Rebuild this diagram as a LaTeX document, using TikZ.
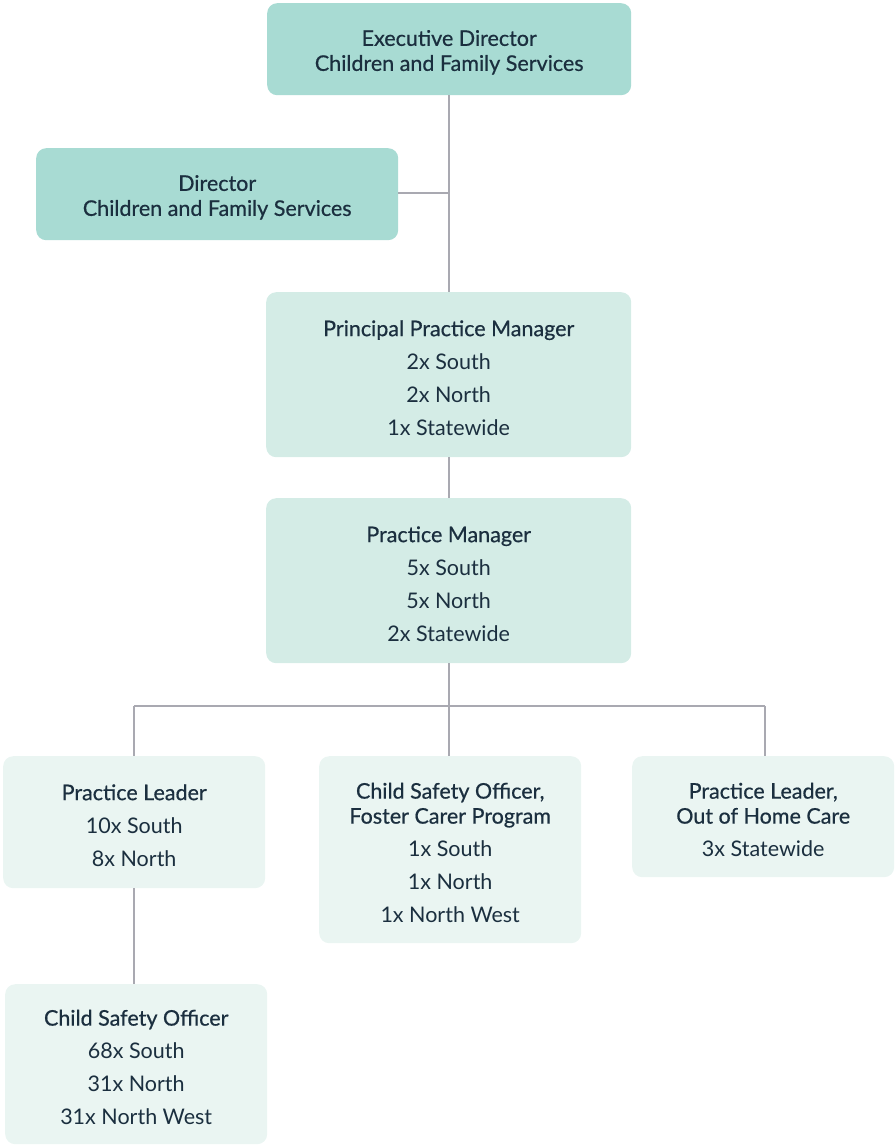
\documentclass[tikz,border=0pt]{standalone}
\usepackage{fontspec}
\setmainfont{Lato}
\newfontfamily\titlefont{Lato}[FakeBold=0.6]
\definecolor{darkbox}{HTML}{A8DBD3}
\definecolor{midbox}{HTML}{D4ECE6}
\definecolor{lightbox}{HTML}{EAF5F2}
\definecolor{txt}{HTML}{1B2F3F}
\definecolor{linec}{HTML}{A9A9B1}
\begin{document}
\begin{tikzpicture}[x=1pt,y=-1pt,
  box/.style={rounded corners=10pt, align=center, text=txt, inner sep=0pt,
    font=\fontsize{21.5}{25}\selectfont, anchor=north west},
  conn/.style={draw=linec, line width=1.2pt}]
\useasboundingbox (0,0) rectangle (895,1146);
\newcommand{\bx}[7]{% name, x1, y1, x2, y2, colour, text
  \node[box, fill=#6, minimum width={#4-#2}, minimum height={#5-#3}] (#1) at (#2,#3) {\rule{0pt}{22pt}#7};}
\bx{exec}{267}{3}{631}{95}{darkbox}{\titlefont Executive Director\\\titlefont Children and Family Services}
\bx{dir}{36}{148}{398}{240}{darkbox}{\titlefont Director\\\titlefont Children and Family Services}
\bx{ppm}{266}{292}{631}{457}{midbox}{\titlefont Principal Practice Manager\\[8pt]2x South\\[8pt]2x North\\[8pt]1x Statewide}
\bx{pm}{266}{498}{631}{663}{midbox}{\titlefont Practice Manager\\[8pt]5x South\\[8pt]5x North\\[8pt]2x Statewide}
\bx{pl}{3}{756}{265}{888}{lightbox}{\titlefont Practice Leader\\[8pt]10x South\\[8pt]8x North}
\bx{csofcp}{319}{756}{581}{943}{lightbox}{\titlefont Child Safety Officer,\\\titlefont Foster Carer Program\\[8pt]1x South\\[8pt]1x North\\[8pt]1x North West}
\bx{plohc}{632}{756}{894}{877}{lightbox}{\titlefont Practice Leader,\\\titlefont Out of Home Care\\[8pt]3x Statewide}
\bx{cso}{5}{984}{267}{1144}{lightbox}{\titlefont Child Safety Officer\\[8pt]68x South\\[8pt]31x North\\[8pt]31x North West}
\coordinate (j1) at (449,193);
\coordinate (j2) at (449,706);
\coordinate (jl) at (134,706);
\coordinate (jr) at (765,706);
\draw[conn] (exec.south -| j1) -- (ppm.north -| j1);
\draw[conn] (dir.east |- j1) -- (j1);
\draw[conn] (ppm.south -| j1) -- (pm.north -| j1);
\draw[conn] (pm.south -| j2) -- (j2);
\draw[conn] (jl) -- (jr);
\draw[conn] (jl) -- (pl.north -| jl);
\draw[conn] (j2) -- (csofcp.north -| j2);
\draw[conn] (jr) -- (plohc.north -| jr);
\draw[conn] (pl.south -| jl) -- (cso.north -| jl);
\end{tikzpicture}
\end{document}
